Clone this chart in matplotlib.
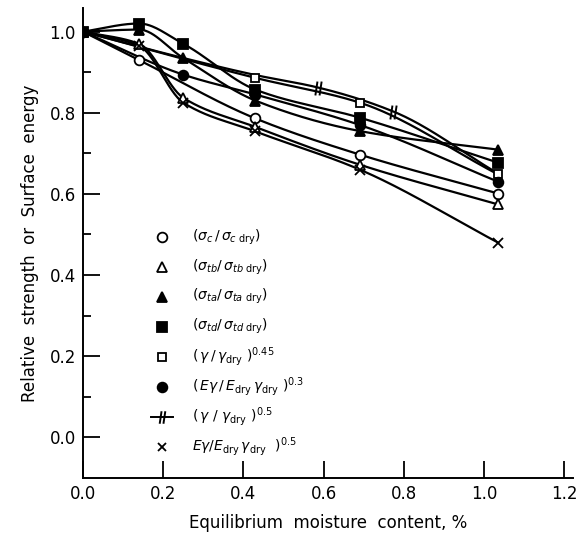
import numpy as np
import matplotlib
matplotlib.use("Agg")
import matplotlib.pyplot as plt
from matplotlib.path import Path

# moisture content (%) at which each quantity was measured, and relative values
x_strength = [0.0, 0.14, 0.25, 0.43, 0.69, 1.035]
sc = [1.0, 0.93, None, 0.786, 0.697, 0.601]      # compression
stb = [1.0, 0.97, 0.837, 0.765, 0.672, 0.574]    # bending
sta = [1.0, 1.005, 0.935, 0.83, 0.755, 0.709]    # tension a
std = [1.0, 1.02, 0.97, 0.857, 0.788, 0.677]     # tension d

x_energy = [0.0, 0.25, 0.43, 0.69, 1.035]
gamma45 = [1.0, None, 0.886, 0.825, 0.648]
eg03 = [1.0, 0.894, 0.845, 0.77, 0.63]

x_g05 = [0.0, 0.25, 0.43, 0.587, 0.774, 1.035]
g05 = [1.0, 0.935, 0.893, 0.862, 0.803, 0.65]

x_eg05 = [0.0, 0.14, 0.25, 0.43, 0.69, 1.035]
eg05 = [1.0, 0.965, 0.825, 0.754, 0.66, 0.48]

labels = [
    r'$(\sigma_c\,/\,\sigma_{c\ \mathrm{dry}})$',
    r'$(\sigma_{tb}/\,\sigma_{tb\ \mathrm{dry}})$',
    r'$(\sigma_{ta}/\,\sigma_{ta\ \mathrm{dry}})$',
    r'$(\sigma_{td}/\,\sigma_{td\ \mathrm{dry}})$',
    r'$(\,\gamma\,/\,\gamma_{\mathrm{dry}}\ )^{0.45}$',
    r'$(\,E\gamma\,/\,E_{\mathrm{dry}}\,\gamma_{\mathrm{dry}}\ )^{0.3}$',
    r'$(\,\gamma\ /\ \gamma_{\mathrm{dry}}\ )^{0.5}$',
    r'$E\gamma/E_{\mathrm{dry}}\,\gamma_{\mathrm{dry}}\ \ )^{0.5}$',
]

hatch = Path([(-0.45, -1), (-0.15, 1), (0.15, -1), (0.45, 1)],
             [Path.MOVETO, Path.LINETO, Path.MOVETO, Path.LINETO])


def pchip(x, y, n=300):
    # monotone cubic through the points, like a french-curve drawing
    x = np.asarray(x, float)
    y = np.asarray(y, float)
    h = np.diff(x)
    d = np.diff(y) / h
    m = np.zeros_like(y)
    for i in range(1, len(x) - 1):
        if d[i - 1] * d[i] > 0:
            w1 = 2 * h[i] + h[i - 1]
            w2 = h[i] + 2 * h[i - 1]
            m[i] = (w1 + w2) / (w1 / d[i - 1] + w2 / d[i])
    m[0] = d[0]
    m[-1] = d[-1]
    xs = np.linspace(x[0], x[-1], n)
    k = np.clip(np.searchsorted(x, xs) - 1, 0, len(h) - 1)
    t = (xs - x[k]) / h[k]
    h00 = 2 * t**3 - 3 * t**2 + 1
    h10 = t**3 - 2 * t**2 + t
    h01 = -2 * t**3 + 3 * t**2
    h11 = t**3 - t**2
    ys = h00 * y[k] + h10 * h[k] * m[k] + h01 * y[k + 1] + h11 * h[k] * m[k + 1]
    return xs, ys


def clean(x, y):
    pts = [(a, b) for a, b in zip(x, y) if b is not None]
    return [p[0] for p in pts], [p[1] for p in pts]


fig = plt.figure(figsize=(5.76, 5.4), dpi=100)
ax = fig.add_axes([0.144, 0.115, 0.851, 0.87])

series = [
    (x_strength, sc, dict(marker='o', mfc='white')),
    (x_strength, stb, dict(marker='^', mfc='white')),
    (x_strength, sta, dict(marker='^', mfc='black')),
    (x_strength, std, dict(marker='s', mfc='black')),
    (x_energy, gamma45, dict(marker='s', mfc='white', ms=6)),
    (x_energy, eg03, dict(marker='o', mfc='black')),
    (x_eg05, eg05, dict(marker='x', mfc='black')),
]

for xv, yv, st in series:
    xx, yy = clean(xv, yv)
    xs, ys = pchip(xx, yy)
    ax.plot(xs, ys, color='black', lw=1.6, zorder=2)
    st = dict(st)
    ms = st.pop('ms', 7)
    ax.plot(xx, yy, ls='none', color='black', mec='black', mew=1.3,
            ms=ms, zorder=3, **st)

xs, ys = pchip(x_g05, g05)
ax.plot(xs, ys, color='black', lw=1.6, zorder=2)
ax.plot(x_g05[3:5], g05[3:5], ls='none', marker=hatch, ms=10,
        mec='black', mew=1.4, zorder=3)

# key
key_markers = [dict(marker='o', mfc='white'), dict(marker='^', mfc='white'),
               dict(marker='^', mfc='black'), dict(marker='s', mfc='black'),
               dict(marker='s', mfc='white', ms=6), dict(marker='o', mfc='black'),
               None, dict(marker='x', mfc='black', ms=6)]
y0 = 0.513
dy = 0.0638
for i, (lab, mk) in enumerate(zip(labels, key_markers)):
    yk = y0 - i * dy
    if mk is None:
        ax.plot([0.138, 0.184], [yk, yk], color='black', lw=1.4,
                transform=ax.transAxes, clip_on=False)
        ax.plot([0.161], [yk], marker=hatch, ms=9, mec='black', mew=1.4,
                ls='none', transform=ax.transAxes, clip_on=False)
    else:
        mk = dict(mk)
        ms = mk.pop('ms', 7)
        ax.plot([0.161], [yk], ls='none', color='black', mec='black',
                mew=1.3, ms=ms, transform=ax.transAxes, clip_on=False, **mk)
    ax.text(0.222, yk, lab, transform=ax.transAxes, fontsize=10,
            va='center', ha='left')

ax.set_xlim(0, 1.222)
ax.set_ylim(-0.1, 1.058)
ax.set_xticks(np.arange(0, 1.21, 0.2))
ax.set_xticklabels(['0.0', '0.2', '0.4', '0.6', '0.8', '1.0', '1.2'])
ax.set_yticks(np.arange(0, 1.01, 0.2))
ax.set_yticklabels(['0.0', '0.2', '0.4', '0.6', '0.8', '1.0'])
ax.set_yticks(np.arange(0.1, 1.0, 0.2), minor=True)
ax.tick_params(axis='both', which='major', direction='in', length=12,
               width=1.3, labelsize=12, pad=5)
ax.tick_params(axis='y', which='minor', direction='in', length=6, width=1.3)
for s in ['top', 'right']:
    ax.spines[s].set_visible(False)
for s in ['left', 'bottom']:
    ax.spines[s].set_linewidth(1.4)

ax.set_xlabel('Equilibrium  moisture  content, %', fontsize=12, labelpad=8)
ax.set_ylabel('Relative  strength  or  Surface  energy', fontsize=12,
              labelpad=8)

fig.savefig('out.png', dpi=100)
